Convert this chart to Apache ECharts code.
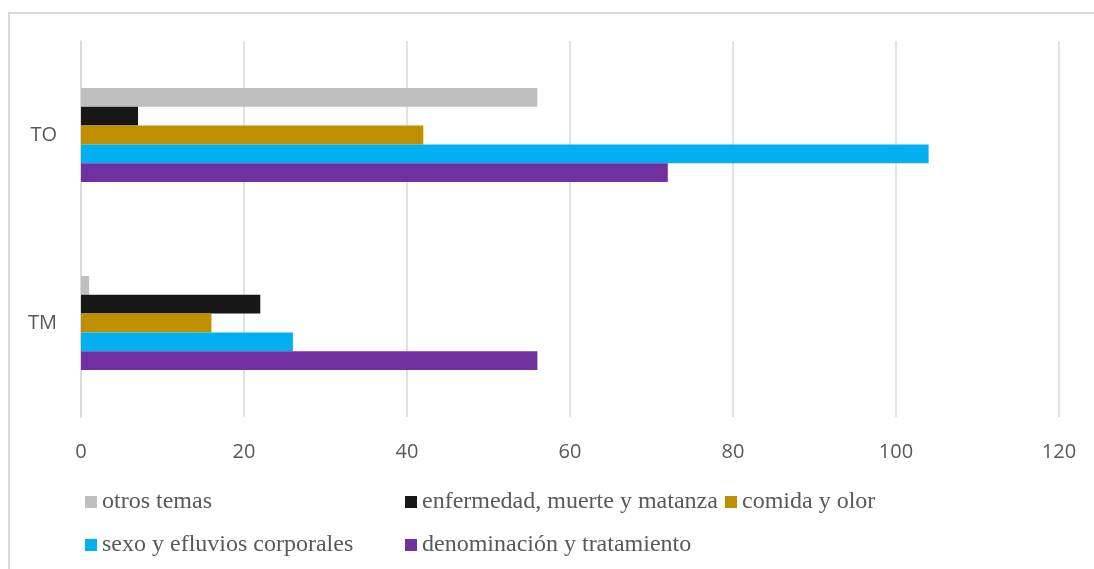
<!DOCTYPE html>
<html>
<head>
<meta charset="utf-8">
<script src="https://cdn.jsdelivr.net/npm/echarts@6/dist/echarts.min.js"></script>
<style>html,body{margin:0;padding:0;background:#fff;overflow:hidden}#c{width:1094px;height:569px}</style>
</head>
<body>
<div id="c"></div>
<script>
const categories = ['TM', 'TO'];
const seriesNames = ['otros temas', 'enfermedad, muerte y matanza', 'comida y olor', 'sexo y efluvios corporales', 'denominación y tratamiento'];
const otrosTemas = [1, 56];
const enfermedad = [22, 7];
const comida = [16, 42];
const sexo = [26, 104];
const denominacion = [56, 72];
const xTicks = [0, 20, 40, 60, 80, 100, 120];

const colors = ['#bfbfbf', '#171717', '#bf8f00', '#00b0f0', '#7030a0'];
const values = [otrosTemas, enfermedad, comida, sexo, denominacion];
const legendPos = [[85, 490], [405, 490], [725, 490], [85, 533], [405, 533]];

const chart = echarts.init(document.getElementById('c'));
chart.setOption({
  animation: false,
  backgroundColor: '#fff',
  graphic: [{
    type: 'polyline', shape: { points: [[9, 600], [9, 13], [1100, 13]] },
    style: { fill: 'none', stroke: '#d9d9d9', lineWidth: 2 }, silent: true
  }],
  grid: { left: 81, right: 35, top: 41, bottom: 152, containLabel: false },
  legend: seriesNames.map((n, i) => ({
    data: [n], left: legendPos[i][0], top: legendPos[i][1],
    itemWidth: 12, itemHeight: 12, itemGap: 6, icon: 'rect', padding: 0,
    textStyle: { fontFamily: 'Liberation Serif', fontSize: 24, color: '#595959' }
  })),
  xAxis: {
    type: 'value', min: 0, max: 120, interval: 20,
    axisLine: { show: false }, axisTick: { show: false },
    axisLabel: { margin: 25, fontFamily: 'Open Sans', fontSize: 20, color: '#595959',
      formatter: v => xTicks.includes(v) ? String(v) : '' },
    splitLine: { lineStyle: { color: '#d9d9d9', width: 1.5 } }
  },
  yAxis: {
    type: 'category', data: categories,
    axisLine: { show: true, lineStyle: { color: '#d9d9d9', width: 1.5 } },
    axisTick: { show: false },
    axisLabel: { margin: 24, fontFamily: 'Open Sans', fontSize: 20, color: '#595959' }
  },
  series: seriesNames.map((n, i) => ({
    name: n, type: 'bar', data: values[i],
    itemStyle: { color: colors[i] },
    barGap: '0%', barCategoryGap: '50%'
  }))
});
</script>
</body>
</html>
